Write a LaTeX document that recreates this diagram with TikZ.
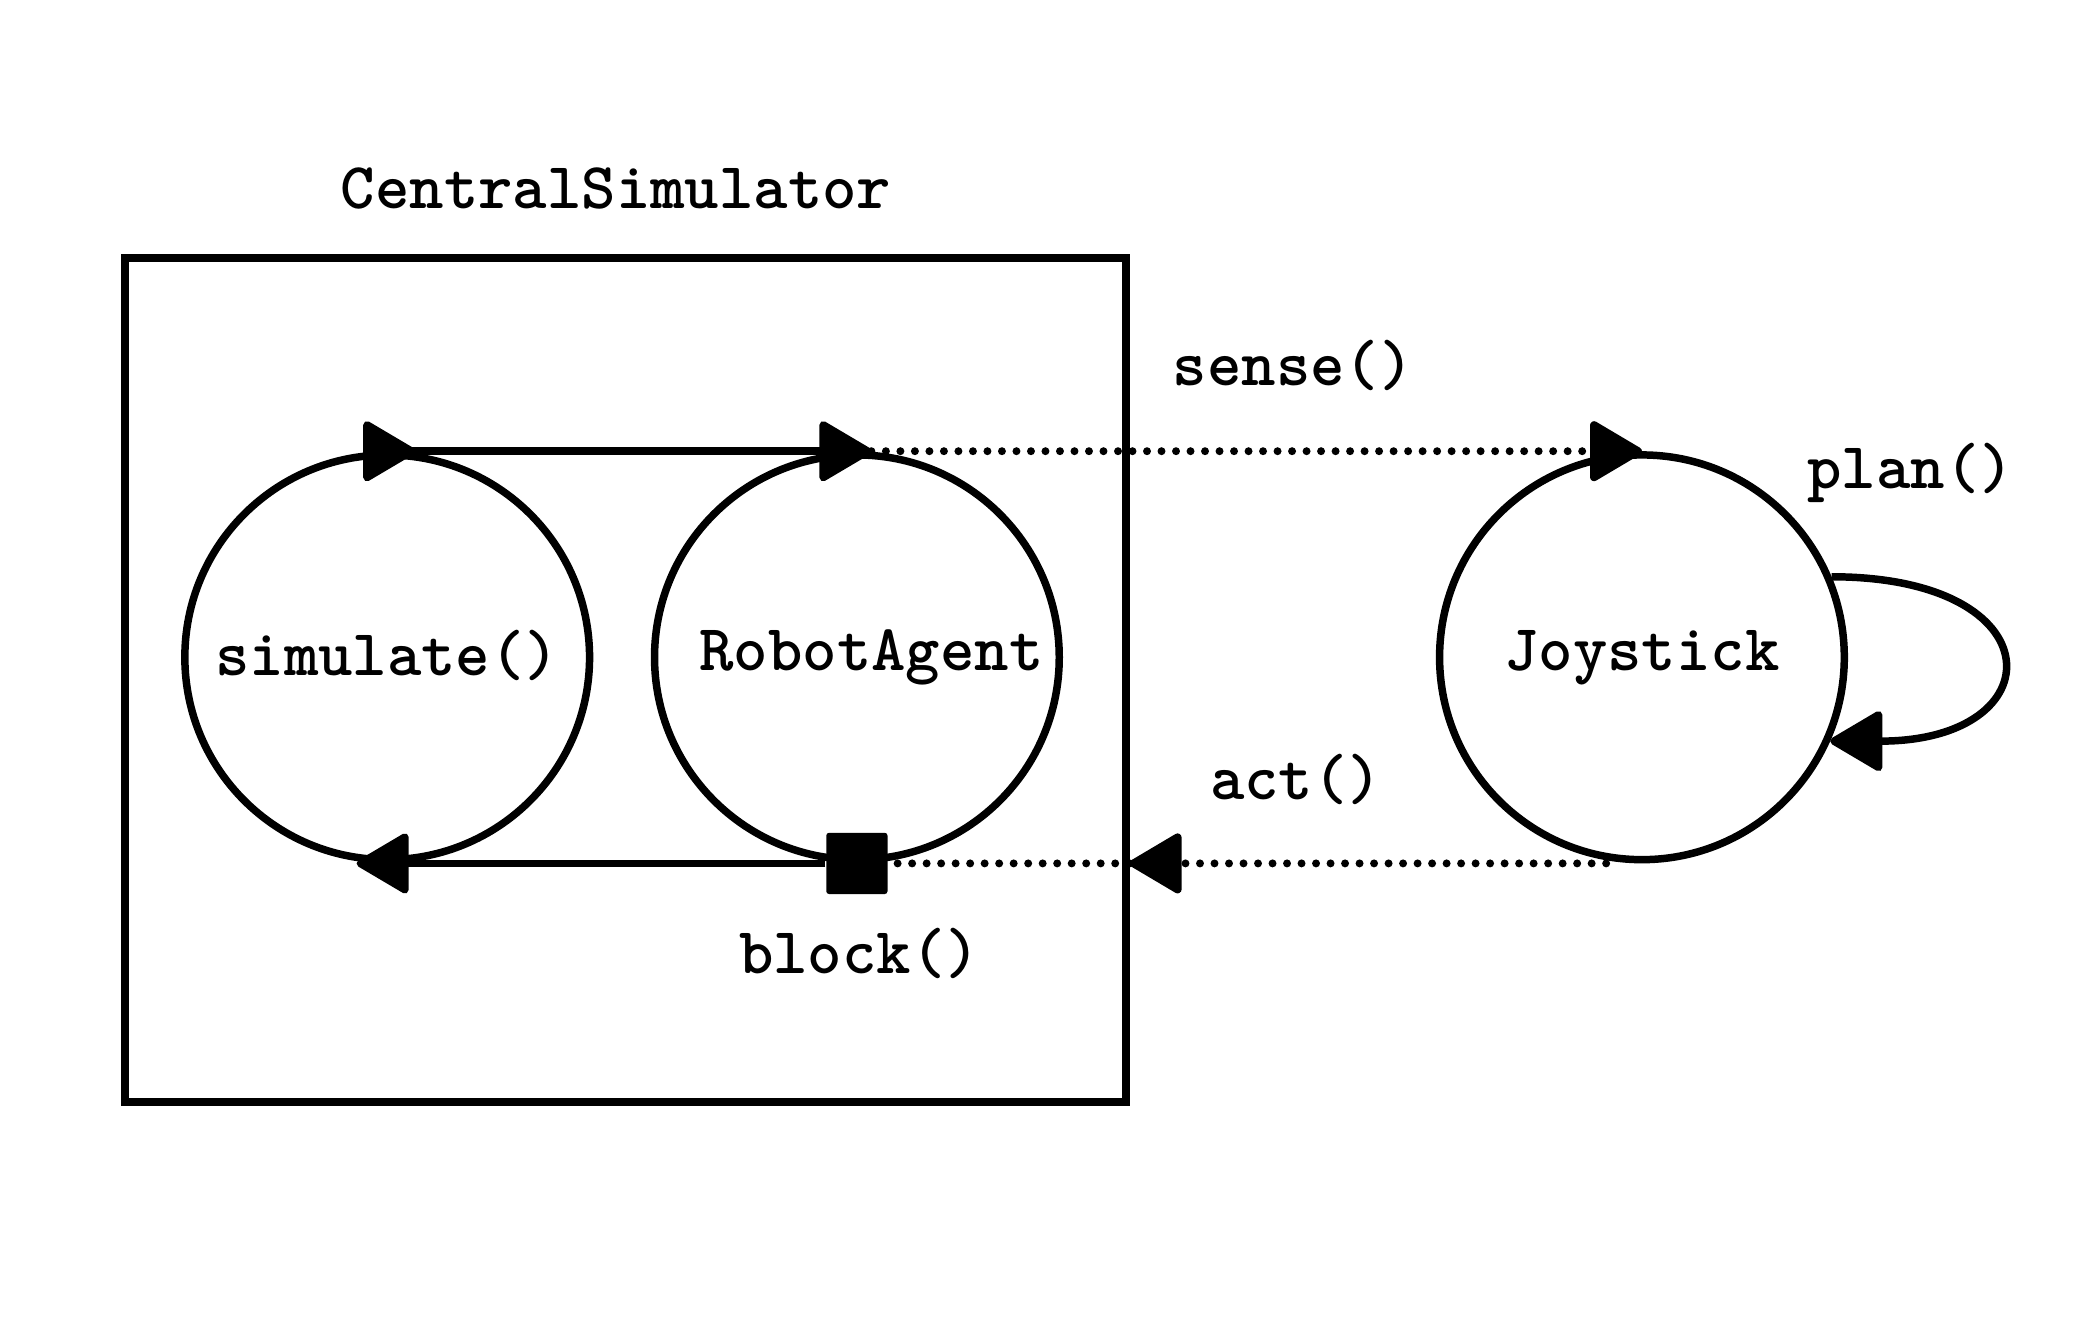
\documentclass[tikz,border=0pt]{standalone}
\usepackage{fontspec}
\newfontfamily\codefont{lmmonolt10-bold.otf}
\usepackage{tikz}
\usetikzlibrary{arrows.meta}

\begin{document}
\begin{tikzpicture}[x=0.01cm, y=-0.01cm,
    every node/.style={font=\codefont\fontsize{14}{16}\selectfont},
    loopnode/.style={draw, circle, line width=1.6pt, minimum size=3.04cm, inner sep=0pt},
    frame/.style={draw, rectangle, line width=1.6pt, minimum width=7.52cm, minimum height=6.34cm},
    blocker/.style={fill=black, rectangle, rounded corners=0.6pt, minimum size=0.46cm, inner sep=0pt},
    callname/.style={anchor=base, inner sep=0pt},
    flow/.style={line width=1.6pt, >={Triangle[length=0.42cm, width=0.48cm, round]}},
    remote/.style={flow, line width=1.7pt, dash pattern=on 0pt off 3.1pt, line cap=round}]

    \useasboundingbox (0,0) rectangle (1567,1006.5);

    % Simulator box and its loops
    \node[frame] (central) at (470,511) {};
    \node[callname] (centraltitle) at (463,157) {CentralSimulator};
    \node[loopnode] (simulate) at (291,494) {\raisebox{0.06cm}{simulate()}};
    \node[loopnode] (robot) at (644,494) {\hspace{0.22cm}\raisebox{0.03cm}{RobotAgent}};
    \node[blocker] (block) at (robot.south) {};
    \node[callname] (blocklabel) at (646,732) {block()};

    % Joystick outside the box
    \node[loopnode] (joystick) at (1234,494) {Joystick};
    \node[callname] (senselabel) at (972,290) {sense()};
    \node[callname] (actlabel) at (974,601) {act()};
    \node[callname] (planlabel) at (1436,367) {plan()};

    % Connectors
    \draw[flow, {Triangle[length=0.42cm, width=0.48cm, round, reversed]}->, shorten <=-0.18cm, shorten >=-0.11cm] (simulate.north) -- (robot.north); % simulate to agent
    \draw[flow, ->, shorten >=-0.23cm] (block) -- (simulate.south); % back to simulate
    \draw[remote, ->] (robot.north) -- (joystick.north); % sense
    \coordinate (actin) at (central.east |- block);
    \coordinate (actout) at (joystick.260 |- block);
    \draw[remote, ->] (actout) -- (actin); % act
    \draw[remote] (actin) -- (block.east);
    \draw[flow, ->] (joystick.23) to[out=0, in=0, looseness=3.5] (joystick.-24); % plan

\end{tikzpicture}
\end{document}
